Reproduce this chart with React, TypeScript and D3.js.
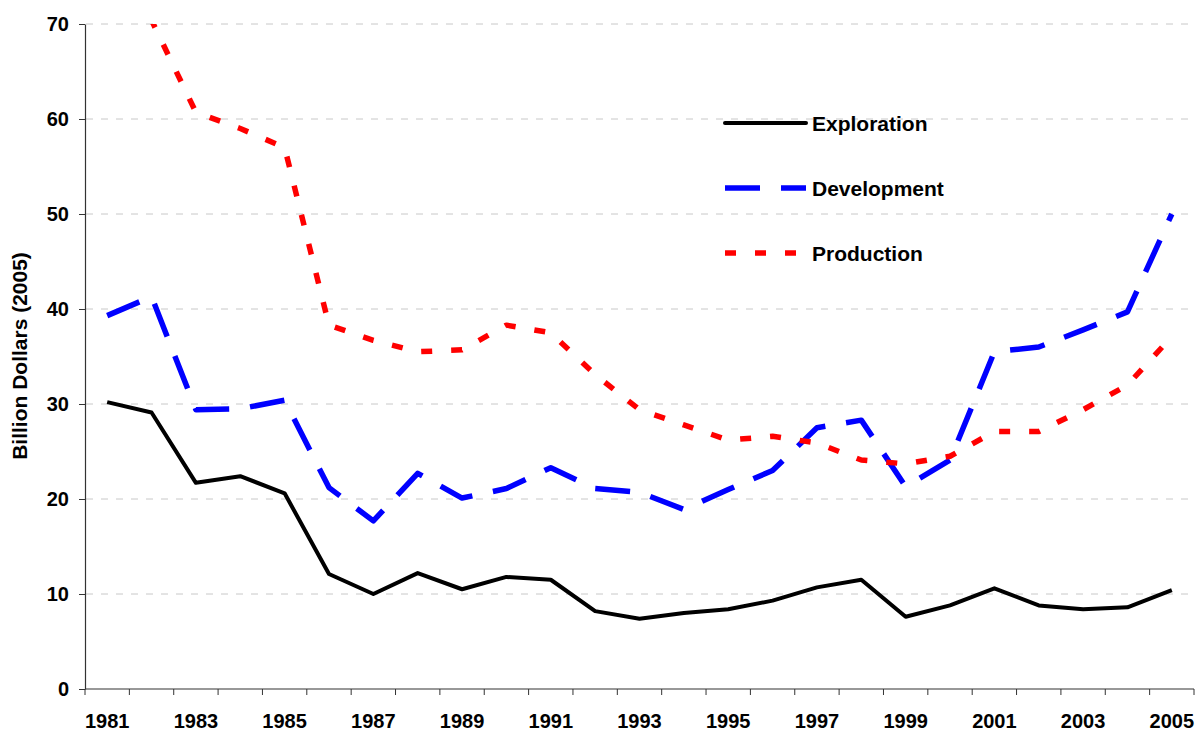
import React, { useEffect, useRef } from 'react';
import * as d3 from 'd3';

const years = d3.range(1981, 2006).map(String);

const exploration = [30.2, 29.1, 21.7, 22.4, 20.6, 12.1, 10.0, 12.2, 10.5, 11.8, 11.5, 8.2, 7.4, 8.0, 8.4, 9.3, 10.7, 11.5, 7.6, 8.8, 10.6, 8.8, 8.4, 8.6, 10.4];
const development = [39.3, 41.3, 29.4, 29.5, 30.4, 21.2, 17.7, 22.7, 20.1, 21.1, 23.3, 21.1, 20.7, 18.9, 21.0, 23.0, 27.5, 28.3, 21.3, 24.1, 35.5, 36.0, 37.8, 39.7, 50.0];
const production = [79.0, 70.4, 60.7, 59.0, 57.0, 38.3, 36.7, 35.5, 35.7, 38.3, 37.5, 33.1, 29.4, 27.8, 26.2, 26.6, 25.9, 24.1, 23.7, 24.5, 27.1, 27.1, 29.4, 32.0, 37.1];

const yTicks = [0, 10, 20, 30, 40, 50, 60, 70];

const series = [
  { name: 'Exploration', values: exploration, color: '#000000', width: 4, dash: null },
  { name: 'Development', values: development, color: '#0000ff', width: 5.5, dash: '35,21' },
  { name: 'Production', values: production, color: '#ff0000', width: 5.5, dash: '11,19' },
];

const FONT = '"Liberation Sans", Arial, sans-serif';

const Chart = () => {
  const svgRef = useRef<SVGSVGElement>(null);

  useEffect(() => {
    const svg = d3.select(svgRef.current);
    svg.selectAll('*').remove();

    const left = 85, right = 1194, top = 24, bottom = 689;

    const x = d3.scaleBand().domain(years).range([left, right]).padding(0);
    const cx = (yr: string) => (x(yr) as number) + x.bandwidth() / 2;
    const y = d3.scaleLinear().domain([0, 70]).range([bottom, top]);

    // gridlines
    svg.append('g')
      .selectAll('line')
      .data(yTicks.filter(t => t > 0))
      .enter()
      .append('line')
      .attr('x1', left + 1)
      .attr('x2', right)
      .attr('y1', d => y(d))
      .attr('y2', d => y(d))
      .attr('stroke', '#c8c8c8')
      .attr('stroke-width', 1)
      .attr('stroke-dasharray', '7,8');

    svg.append('defs')
      .append('clipPath')
      .attr('id', 'plot-clip')
      .append('rect')
      .attr('x', left)
      .attr('y', top)
      .attr('width', right - left)
      .attr('height', bottom - top);

    const line = d3.line<number>()
      .x((_, i) => cx(years[i]))
      .y(d => y(d));

    const lines = svg.append('g').attr('clip-path', 'url(#plot-clip)');
    series.forEach(s => {
      lines.append('path')
        .datum(s.values)
        .attr('fill', 'none')
        .attr('stroke', s.color)
        .attr('stroke-width', s.width)
        .attr('stroke-linejoin', 'round')
        .attr('stroke-dasharray', s.dash)
        .attr('d', line);
    });

    // y axis
    const yAxis = svg.append('g')
      .attr('transform', `translate(${left},0)`)
      .call(d3.axisLeft(y).tickValues(yTicks).tickSize(6).tickPadding(10).tickSizeOuter(0));
    yAxis.select('.domain').attr('stroke', '#333').attr('stroke-width', 1.2);
    yAxis.selectAll('.tick line').attr('stroke', '#333');
    yAxis.selectAll('.tick text')
      .attr('font-family', FONT)
      .attr('font-weight', 'bold')
      .attr('font-size', 20)
      .attr('fill', '#000');

    // x axis: ticks on category boundaries, labels on odd years
    const boundaries = d3.range(years.length + 1).map(i => left + i * x.bandwidth());
    const xAxis = svg.append('g');
    xAxis.append('line')
      .attr('x1', left)
      .attr('x2', right)
      .attr('y1', bottom)
      .attr('y2', bottom)
      .attr('stroke', '#333')
      .attr('stroke-width', 1.2);
    xAxis.selectAll('.xt')
      .data(boundaries)
      .enter()
      .append('line')
      .attr('x1', d => d)
      .attr('x2', d => d)
      .attr('y1', bottom)
      .attr('y2', bottom + 6)
      .attr('stroke', '#333');
    xAxis.selectAll('text')
      .data(years.filter((_, i) => i % 2 === 0))
      .enter()
      .append('text')
      .attr('x', d => cx(d))
      .attr('y', 728)
      .attr('text-anchor', 'middle')
      .attr('font-family', FONT)
      .attr('font-weight', 'bold')
      .attr('font-size', 20)
      .text(d => d);

    // y axis title
    svg.append('text')
      .attr('transform', `translate(27,356) rotate(-90)`)
      .attr('text-anchor', 'middle')
      .attr('font-family', FONT)
      .attr('font-weight', 'bold')
      .attr('font-size', 21)
      .text('Billion Dollars (2005)');

    // legend
    const legend = svg.append('g');
    series.forEach((s, i) => {
      const ly = 123 + i * 65;
      legend.append('line')
        .attr('x1', 725)
        .attr('x2', 806)
        .attr('y1', ly)
        .attr('y2', ly)
        .attr('stroke', s.color)
        .attr('stroke-width', s.width)
        .attr('stroke-linecap', s.dash ? 'butt' : 'round')
        .attr('stroke-dasharray', s.dash);
      legend.append('text')
        .attr('x', 812)
        .attr('y', ly + 8)
        .attr('font-family', FONT)
        .attr('font-weight', 'bold')
        .attr('font-size', 21)
        .text(s.name);
    });
  }, []);

  return (
    <svg
      ref={svgRef}
      width={1198}
      height={731}
      style={{ position: 'absolute', left: 0, top: 0, display: 'block' }}
    />
  );
};

export default function App() {
  return <Chart />;
}
